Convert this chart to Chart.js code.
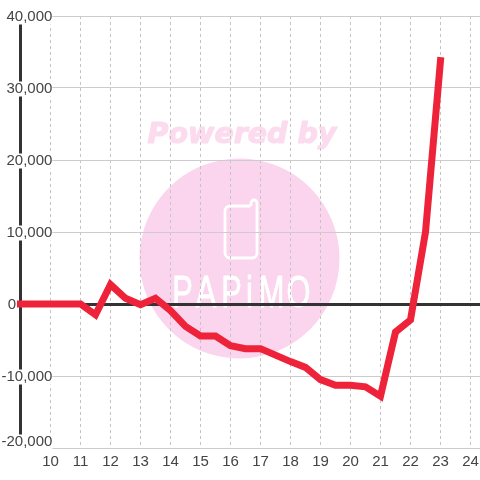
<!DOCTYPE html>
<html>
<head>
<meta charset="utf-8">
<script src="https://cdn.jsdelivr.net/npm/chart.js@4"></script>
<style>
  html, body { margin: 0; padding: 0; background: #fff; }
  #wrap { width: 480px; height: 480px; }
</style>
</head>
<body>
<div id="wrap"><canvas id="myChart"></canvas></div>
<script>
const hours = [9, 9.5, 10, 10.5, 11, 11.5, 12, 12.5, 13, 13.5, 14, 14.5, 15, 15.5, 16, 16.5,
    17, 17.5, 18, 18.5, 19, 19.5, 20, 20.5, 21, 21.5, 22, 22.5, 23];
const balance = [0, 0, 0, 0, 0, -1500, 2700, 800, -100, 800, -900, -3100, -4450, -4450, -5800, -6200,
    -6200, -7100, -8000, -8800, -10500, -11300, -11300, -11500, -12800, -3900, -2200, 10000, 33800];
const hourTicks = [10, 11, 12, 13, 14, 15, 16, 17, 18, 19, 20, 21, 22, 23, 24];
const watermarkTitle = 'Powered by';
const watermarkLetters = ['P', 'A', 'P', 'i', 'M', 'O'];

const fmt = (v) => v.toLocaleString('en-US');

// background logo, sits under the grid
const watermark = {
    id: 'watermark',
    beforeDraw(chart) {
        const c = chart.ctx;
        c.save();
        c.fillStyle = '#fbd5ed';
        c.beginPath();
        c.arc(239.5, 258.5, 100, 0, Math.PI * 2);
        c.fill();

        c.fillStyle = c.strokeStyle = '#fcdbef';
        c.lineWidth = 1.2;
        c.lineJoin = 'round';
        c.font = 'italic bold 28.5px "DejaVu Sans"';
        c.textAlign = 'center';
        c.fillText(watermarkTitle, 242, 143);
        c.strokeText(watermarkTitle, 242, 143);

        // phone outline with the little antenna
        c.strokeStyle = '#fff';
        c.lineWidth = 2.8;
        c.beginPath();
        c.moveTo(250.5, 206);
        c.lineTo(230, 206);
        c.arcTo(225, 206, 225, 211, 5);
        c.lineTo(225, 253);
        c.arcTo(225, 258, 230, 258, 5);
        c.lineTo(252, 258);
        c.arcTo(257, 258, 257, 253, 5);
        c.lineTo(257, 203);
        c.arc(254, 203, 3, 0, Math.PI, true);
        c.lineTo(251, 206);
        c.stroke();

        c.fillStyle = '#fff';
        c.lineWidth = 0.8;
        c.font = '44px "Liberation Sans"';
        const xs = [182.5, 206, 231.5, 249.5, 271.5, 298.5];
        watermarkLetters.forEach((l, i) => {
            c.save();
            c.translate(xs[i], 307);
            c.scale(0.7, 1);
            c.fillText(l, 0, 0);
            c.strokeText(l, 0, 0);
            c.restore();
        });
        c.restore();
    }
};

// "0" sits left of the axis and the bottom label is pushed up
const nudgeLabels = {
    id: 'nudgeLabels',
    beforeDraw(chart) {
        for (const item of chart.scales.y.getLabelItems()) {
            if (item.nudged) continue;
            item.nudged = true;
            item.options.translation[1] += 1;
            if (item.label === '0') item.options.translation[0] = 16;
            if (item.label === '-20,000') item.options.translation[1] -= 7;
        }
    }
};

new Chart(document.getElementById('myChart'), {
    type: 'line',
    data: {
        datasets: [{
            data: hours.map((h, i) => ({ x: h, y: balance[i] })),
            borderColor: '#ee2238',
            borderWidth: 7,
            borderCapStyle: 'square',
            pointRadius: 0,
            tension: 0,
            clip: false
        }]
    },
    options: {
        responsive: true,
        maintainAspectRatio: false,
        animation: false,
        layout: { padding: { left: 20.5, top: 16, right: 0, bottom: 0 } },
        plugins: { legend: { display: false }, tooltip: { enabled: false } },
        scales: {
            x: {
                type: 'linear',
                min: 9,
                max: 24.3167,
                afterBuildTicks: (s) => { s.ticks = hourTicks.map((value) => ({ value })); },
                afterFit: (s) => { s.height = 32; s.paddingRight = 0; s.paddingLeft = 0; },
                grid: {
                    color: '#c4c4c4',
                    lineWidth: 1,
                    tickLength: 0,
                    drawTicks: false
                },
                border: { display: false, dash: [3, 3] },
                ticks: {
                    autoSkip: false,
                    maxRotation: 0,
                    padding: 6,
                    color: '#444',
                    font: { family: '"Liberation Sans"', size: 15, lineHeight: 1 }
                }
            },
            y: {
                min: -20000,
                max: 40000,
                afterFit: (s) => { s.width = 0; },
                grid: {
                    color: (ctx) => ctx.tick.value === 0 ? '#333' : '#ccc',
                    lineWidth: (ctx) => ctx.tick.value === 0 ? 3 : 1,
                    drawTicks: false,
                    tickLength: 0
                },
                border: { display: true, color: '#333', width: 3 },
                ticks: {
                    stepSize: 5000,
                    mirror: true,
                    crossAlign: 'far',
                    padding: -19,
                    color: '#444',
                    font: { family: '"Liberation Sans"', size: 15, lineHeight: 1 },
                    showLabelBackdrop: true,
                    backdropColor: '#fff',
                    backdropPadding: 0,
                    callback: (v) => v % 10000 === 0 ? fmt(v) : null
                }
            }
        }
    },
    plugins: [watermark, nudgeLabels]
});
</script>
</body>
</html>
